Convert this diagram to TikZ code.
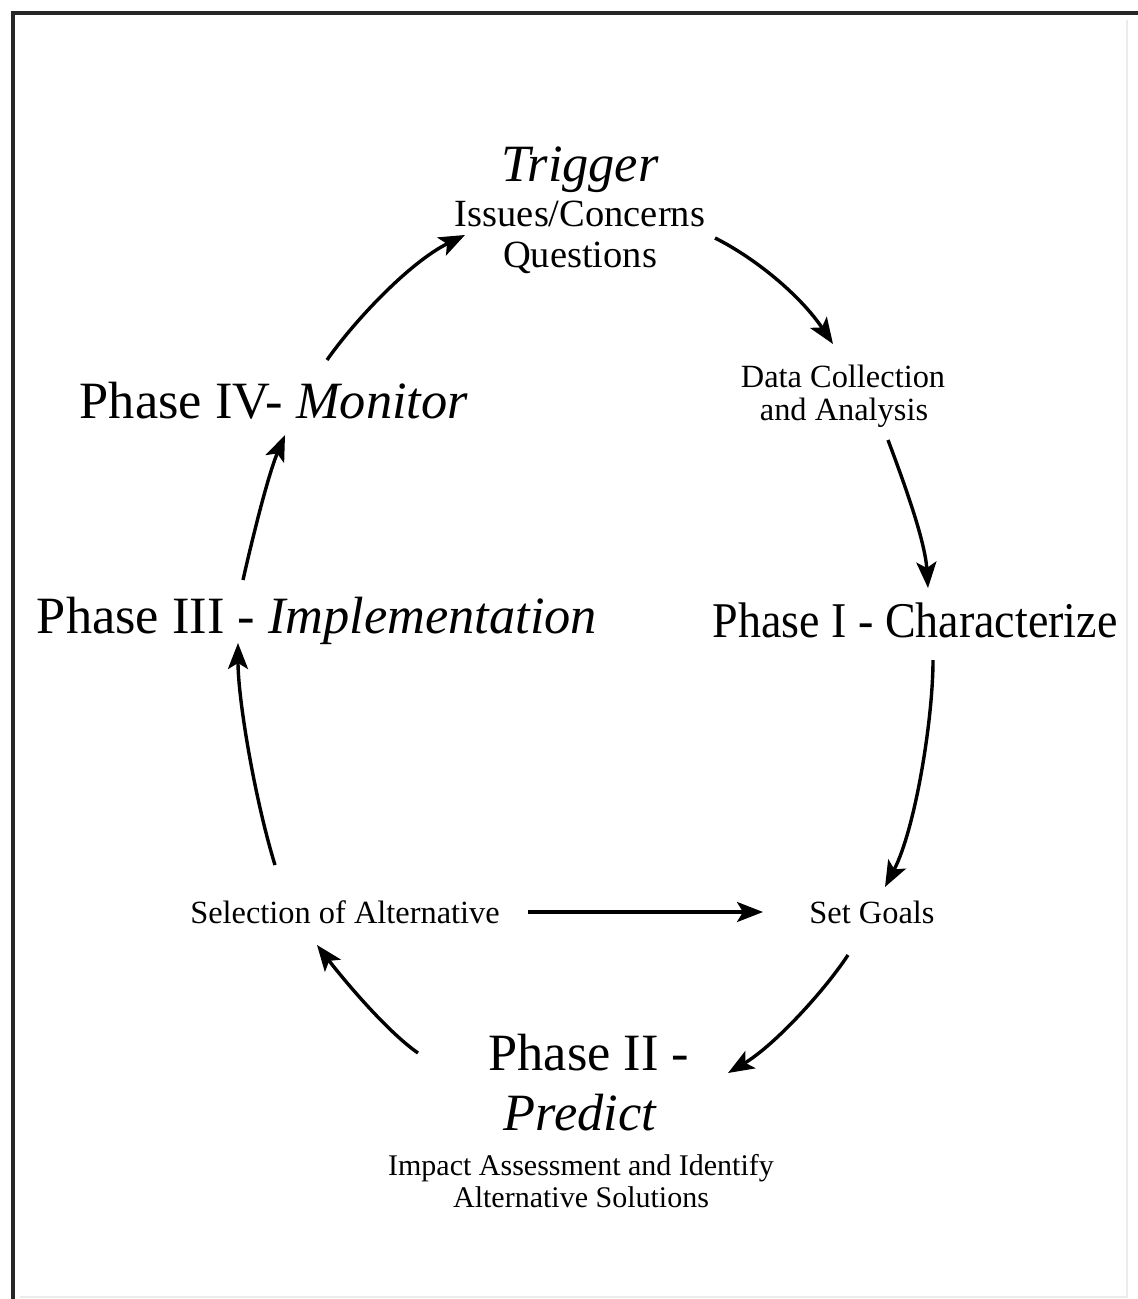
\documentclass[tikz,border=0pt]{standalone}
\usepackage{fontspec}
\usepackage{graphicx}
\setmainfont{Liberation Serif}
\usetikzlibrary{arrows.meta}
\begin{document}
\begin{tikzpicture}[x=0.5pt,y=-0.5pt,
  lbl/.style={anchor=base,inner sep=0pt,outer sep=0pt,text=black},
  big/.style={lbl,font=\fontsize{26.2}{30}\selectfont},
  mid/.style={lbl,font=\fontsize{19.25}{22}\selectfont},
  small/.style={lbl,font=\fontsize{16.2}{19}\selectfont},
  tiny/.style={lbl,font=\fontsize{15}{18}\selectfont},
  arr/.style={line width=1.7pt,-{Stealth[length=13pt,width=10pt,inset=3pt]}}]
\useasboundingbox (0,0) rectangle (1138,1299);
\fill[white] (0,0) rectangle (1138,1299);
% frame
\draw[line width=1.6pt,black!85] (1138,13) -- (13,13) -- (13,1299);
\draw[line width=0.8pt,black!8] (1127,20) -- (1127,1297) -- (20,1297);
% nodes
\node[big] (trigT) at (580,182) {\itshape Trigger};
\node[mid] (trigI) at (580,227) {Issues/Concerns};
\node[mid] (trigQ) at (580,268) {Questions};
\node[small] (data1) at (843,387) {Data Collection};
\node[small] (data2) at (844,420) {and Analysis};
\node[lbl,font=\fontsize{25}{30}\selectfont] (ph1) at (915,637) {\scalebox{0.92}[1]{Phase I - Characterize}};
\node[small] (goals) at (872,923) {Set Goals};
\node[big] (ph2a) at (589,1070) {Phase II -};
\node[big] (ph2b) at (580,1130) {\itshape Predict};
\node[tiny] (imp1) at (581,1175) {Impact Assessment and Identify};
\node[tiny] (imp2) at (581,1207) {Alternative Solutions};
\node[small] (sel) at (345,923) {Selection of Alternative};
\node[big] (ph3) at (317,633) {Phase III - \textit{Implementation}};
\node[big] (ph4) at (274,418) {Phase IV- \textit{Monitor}};
% connectors
\draw[arr] ([shift={(135,11)}]trigI.base) .. controls (755,258) and (800,295) .. ([shift={(-10,-43)}]data1.base);
\draw[arr] ([shift={(44,20)}]data2.base) .. controls (903,480) and (925,540) .. ([shift={(13,-49)}]ph1.base);
\draw[arr] ([shift={(18,23)}]ph1.base) .. controls (933,720) and (915,830) .. ([shift={(13,-36)}]goals.base);
\draw[arr] ([shift={(-24,32)}]goals.base) .. controls (825,990) and (775,1045) .. ([shift={(139,3)}]ph2a.base);
\draw[arr] ([shift={(-171,-17)}]ph2a.base) .. controls (385,1030) and (340,975) .. ([shift={(-28,22)}]sel.base);
\draw[arr] ([shift={(183,-11)}]sel.base) -- ([shift={(-109,-11)}]goals.base);
\draw[arr] ([shift={(-70,-58)}]sel.base) .. controls (255,800) and (238,700) .. ([shift={(-79,10)}]ph3.base);
\draw[arr] ([shift={(-74,-53)}]ph3.base) .. controls (252,540) and (268,475) .. ([shift={(11,17)}]ph4.base);
\draw[arr] ([shift={(53,-58)}]ph4.base) .. controls (355,320) and (410,262) .. ([shift={(-115,8)}]trigI.base);
\end{tikzpicture}
\end{document}
